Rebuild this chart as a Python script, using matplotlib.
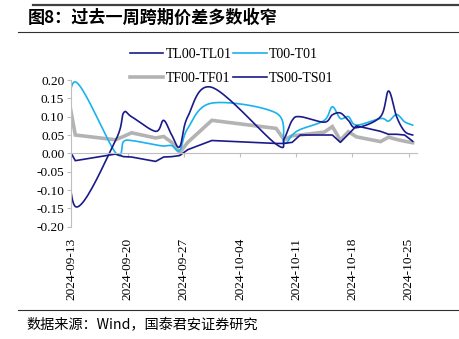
import numpy as np
import matplotlib
matplotlib.use("Agg")
import matplotlib.pyplot as plt
import matplotlib.dates as mdates
from matplotlib.lines import Line2D
from matplotlib.ticker import FormatStrFormatter

plt.rcParams['axes.unicode_minus'] = False

# 数据（按图读取，9-12 为左侧截断点）
dates = ['2024-09-12', '2024-09-13', '2024-09-18', '2024-09-19', '2024-09-20',
         '2024-09-23', '2024-09-24', '2024-09-25', '2024-09-26', '2024-09-27',
         '2024-09-30', '2024-10-08', '2024-10-09', '2024-10-10', '2024-10-11',
         '2024-10-14', '2024-10-15', '2024-10-16', '2024-10-17', '2024-10-18',
         '2024-10-21', '2024-10-22', '2024-10-23', '2024-10-24', '2024-10-25']
tl = [0.14, -0.145, 0.035, 0.11, 0.10, 0.06, 0.09, 0.05, 0.018, 0.10,
      0.18, 0.025, 0.04, 0.09, 0.10, 0.085, 0.105, 0.11, 0.09, 0.07,
      0.10, 0.17, 0.10, 0.06, 0.05]
t = [0.025, 0.195, 0.002, 0.032, 0.035, 0.023, 0.02, 0.021, 0.008, 0.068,
     0.137, 0.11, 0.03, 0.05, 0.065, 0.09, 0.127, 0.095, 0.10, 0.077,
     0.095, 0.088, 0.106, 0.086, 0.077]
tf = [0.17, 0.05, 0.037, 0.046, 0.056, 0.042, 0.046, 0.03, 0.002, 0.03,
      0.09, 0.068, 0.037, 0.048, 0.05, 0.058, 0.073, 0.036, 0.059, 0.045,
      0.032, 0.044, 0.038, 0.033, 0.029]
ts = [0.02, -0.02, -0.002, -0.009, -0.01, -0.022, -0.01, -0.009, -0.006, 0.01,
      0.035, 0.027, 0.027, 0.03, 0.05, 0.05, 0.05, 0.03, 0.052, 0.075,
      0.06, 0.052, 0.052, 0.05, 0.033]
tick_dates = ['2024-09-13', '2024-09-20', '2024-09-27', '2024-10-04',
              '2024-10-11', '2024-10-18', '2024-10-25']
yticks = [-0.20, -0.15, -0.10, -0.05, 0.00, 0.05, 0.10, 0.15, 0.20]


def smooth(x, y, n=24):
    # 类似 Excel 平滑线的 Bezier 插值
    x = np.asarray(x, float)
    y = np.asarray(y, float)
    px = np.concatenate([[x[0]], x, [x[-1]]])
    py = np.concatenate([[y[0]], y, [y[-1]]])
    s = np.linspace(0, 1, n)[:, None]
    xs, ys = [], []
    for i in range(len(x) - 1):
        p0 = np.array([px[i], py[i]])
        p1 = np.array([px[i + 1], py[i + 1]])
        p2 = np.array([px[i + 2], py[i + 2]])
        p3 = np.array([px[i + 3], py[i + 3]])
        c1 = p1 + (p2 - p0) / 6
        c2 = p2 - (p3 - p1) / 6
        b = ((1 - s) ** 3) * p1 + 3 * ((1 - s) ** 2) * s * c1 \
            + 3 * (1 - s) * s ** 2 * c2 + s ** 3 * p2
        xs.append(b[:, 0])
        ys.append(b[:, 1])
    return np.concatenate(xs), np.concatenate(ys)


x = mdates.datestr2num(dates) + 0.5
navy = '#1A1A8A'
blue = '#1AB2EE'
gray = '#B3B3B3'

fig = plt.figure(figsize=(4.59, 3.39), dpi=100)
ax = fig.add_axes([0.1553, 0.3313, 0.7525, 0.4327])

l_tf, = ax.plot(x, tf, color=gray, lw=2.6, solid_joinstyle='miter')
sx, sy = smooth(x, t)
l_t, = ax.plot(sx, sy, color=blue, lw=1.2)
sx, sy = smooth(x, tl)
l_tl, = ax.plot(sx, sy, color=navy, lw=1.2)
l_ts, = ax.plot(x, ts, color=navy, lw=1.2)

ax.set_xlim(mdates.datestr2num('2024-09-13'), mdates.datestr2num('2024-10-26'))
ax.set_ylim(-0.20, 0.20)
ax.set_yticks(yticks)
ax.yaxis.set_major_formatter(FormatStrFormatter('%.2f'))

for side in ['top', 'right']:
    ax.spines[side].set_visible(False)
ax.spines['left'].set_color('#BFBFBF')
ax.spines['bottom'].set_color('#BFBFBF')
ax.spines['bottom'].set_position(('data', 0))

ax.set_xticks(mdates.datestr2num(tick_dates))
ax.tick_params(axis='x', direction='out', length=3, color='#BFBFBF', labelbottom=False)
ax.tick_params(axis='y', direction='out', length=3, color='#BFBFBF', pad=2)
for lab in ax.get_yticklabels():
    lab.set_fontfamily('Liberation Serif')
    lab.set_fontsize(9.6)

sec = ax.secondary_xaxis(0)
sec.set_xticks(mdates.datestr2num(tick_dates))
sec.set_xticklabels(tick_dates, rotation=90, fontfamily='Liberation Serif', fontsize=9.6)
sec.tick_params(length=0, pad=8)
sec.spines['bottom'].set_visible(False)

fig.legend([l_tl, l_tf, l_t, l_ts], ['TL00-TL01', 'TF00-TF01', 'T00-T01', 'TS00-TS01'],
           ncol=2, loc='upper left', bbox_to_anchor=(0.268, 0.88), frameon=False,
           prop={'family': 'Liberation Serif', 'size': 10}, handlelength=2.4,
           handletextpad=0.15, columnspacing=0.15, labelspacing=0.8, borderpad=0)

cjk = ['Noto Sans CJK SC', 'DejaVu Sans']
fig.text(0.06, 1 - 18 / 339, '图8：过去一周跨期价差多数收窄', family=cjk,
         fontsize=12.3, fontweight='bold', va='center', ha='left')
fig.text(0.058, 1 - 325 / 339, '数据来源：Wind，国泰君安证券研究', family=cjk,
         fontsize=10.2, va='center', ha='left')

fig.add_artist(Line2D([33 / 459, 1], [1 - 5 / 339, 1 - 5 / 339],
                      transform=fig.transFigure, color='#404040', lw=1.6))
fig.add_artist(Line2D([18 / 459, 1], [1 - 31.5 / 339, 1 - 31.5 / 339],
                      transform=fig.transFigure, color='#303030', lw=0.8))
fig.add_artist(Line2D([18 / 459, 1], [1 - 309.5 / 339, 1 - 309.5 / 339],
                      transform=fig.transFigure, color='#303030', lw=0.8))

fig.savefig('out.png', dpi=100)
